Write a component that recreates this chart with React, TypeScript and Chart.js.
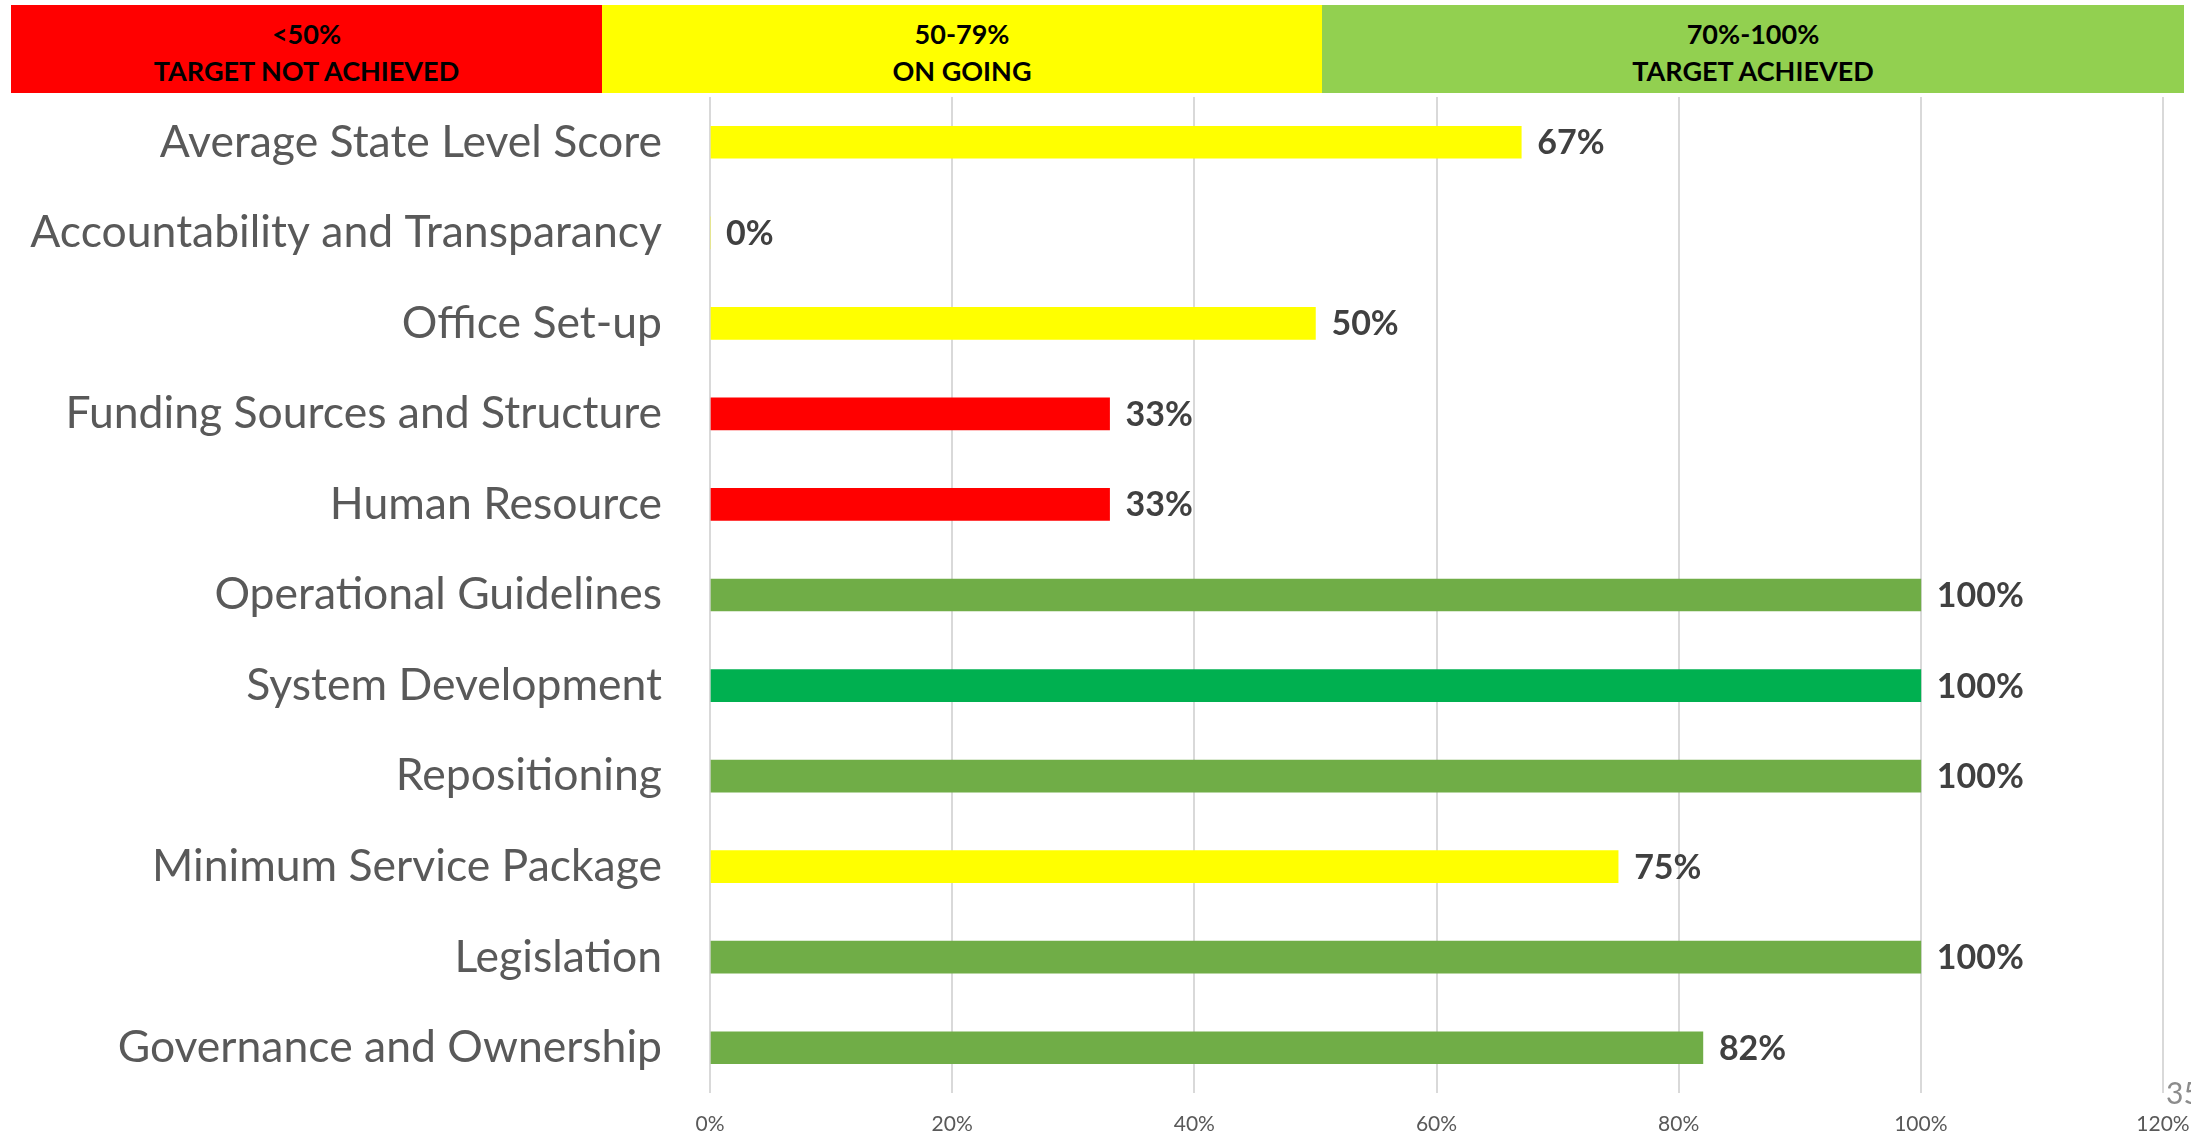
import React, { useEffect, useRef } from 'react';
import { Chart, registerables } from 'chart.js';

Chart.register(...registerables);

const categories = [
  'Average State Level Score',
  'Accountability and Transparancy',
  'Office Set-up',
  'Funding Sources and Structure',
  'Human Resource',
  'Operational Guidelines',
  'System Development',
  'Repositioning',
  'Minimum Service Package',
  'Legislation',
  'Governance and Ownership',
];
const scores = [67, 0, 50, 33, 33, 100, 100, 100, 75, 100, 82];
const barColors = [
  '#FFFF00', '#FFFF00', '#FFFF00', '#FF0000', '#FF0000',
  '#70AD47', '#00B050', '#70AD47', '#FFFF00', '#70AD47', '#70AD47',
];
const xMin = 0;
const xMax = 120;
const xStep = 20;
const bandLines = [
  ['<50%', 'TARGET NOT ACHIEVED'],
  ['50-79%', 'ON GOING'],
  ['70%-100%', 'TARGET ACHIEVED'],
];
const bandColors = ['#FF0000', '#FFFF00', '#92D050'];
const pageNumber = '35';

const valueLabels = {
  id: 'valueLabels',
  afterDatasetsDraw(chart: any) {
    const ctx = chart.ctx;
    const meta = chart.getDatasetMeta(0);
    const data = chart.data.datasets[0].data;
    ctx.save();
    ctx.font = 'bold 34px Lato';
    ctx.fillStyle = '#404040';
    ctx.textAlign = 'left';
    ctx.textBaseline = 'middle';
    meta.data.forEach((el: any, i: number) => {
      ctx.fillText(data[i] + '%', el.x + 16, el.y + 1);
    });
    ctx.restore();
  },
};

const zeroPadding = (s: any) => {
  s.paddingLeft = 0;
  s.paddingRight = 0;
  s.paddingTop = 0;
  s.paddingBottom = 0;
};

function BarChart() {
  const ref = useRef<HTMLCanvasElement>(null);
  useEffect(() => {
    let chart: Chart | null = null;
    let cancelled = false;
    const make = () => {
      if (cancelled || !ref.current) return;
      chart = new Chart(ref.current, {
        type: 'bar',
        data: {
          labels: categories,
          datasets: [
            {
              data: scores,
              backgroundColor: barColors,
              barThickness: 32,
              borderWidth: 0,
            },
          ],
        },
        options: {
          indexAxis: 'y',
          animation: false,
          responsive: false,
          maintainAspectRatio: false,
          layout: { padding: { top: 97, right: 28, bottom: 0, left: 0 } },
          plugins: { legend: { display: false }, tooltip: { enabled: false } },
          scales: {
            x: {
              min: xMin,
              max: xMax,
              ticks: {
                stepSize: xStep,
                callback: (v: any) => v + '%',
                color: '#595959',
                font: { family: 'Lato', size: 21 },
                padding: 19,
                maxRotation: 0,
              },
              grid: { color: '#D9D9D9', lineWidth: 2, drawTicks: false },
              border: { display: false },
              afterFit: (s: any) => { s.height = 42; zeroPadding(s); },
            },
            y: {
              ticks: {
                color: '#595959',
                font: { family: 'Lato', size: 44.5 },
                padding: 48,
                autoSkip: false,
              },
              grid: { display: false, drawTicks: false },
              border: { display: false },
              afterFit: (s: any) => { s.width = 710; zeroPadding(s); },
            },
          },
        },
        plugins: [valueLabels],
      });
    };
    const fonts: any = (document as any).fonts;
    if (fonts && fonts.load) {
      Promise.all([fonts.load('44px Lato'), fonts.load('bold 34px Lato')]).then(make, make);
    } else make();
    return () => {
      cancelled = true;
      if (chart) chart.destroy();
    };
  }, []);
  return <canvas ref={ref} width={2191} height={1135} style={{ position: 'absolute', left: 0, top: 0 }} />;
}

export default function App() {
  const bandEdges = [11, 602, 1322, 2184];
  return (
    <div style={{ position: 'fixed', left: 0, top: 0, width: 2191, height: 1135, overflow: 'hidden', background: '#fff' }}>
      <BarChart />
      {bandLines.map((lines, i) => (
        <div
          key={i}
          style={{
            position: 'absolute',
            left: bandEdges[i],
            width: bandEdges[i + 1] - bandEdges[i],
            top: 5,
            height: 88,
            boxSizing: 'border-box',
            paddingTop: 5,
            background: bandColors[i],
            display: 'flex',
            flexDirection: 'column',
            justifyContent: 'center',
            alignItems: 'center',
            fontFamily: 'Lato',
            fontWeight: 700,
            fontSize: 27,
            lineHeight: '37px',
            color: '#000',
          }}
        >
          {lines.map((t, j) => <div key={j}>{t}</div>)}
        </div>
      ))}
      <div style={{ position: 'absolute', left: 2166, top: 1074, fontFamily: 'Lato', fontSize: 30, lineHeight: '36px', color: '#8C8C8C' }}>
        {pageNumber}
      </div>
    </div>
  );
}
